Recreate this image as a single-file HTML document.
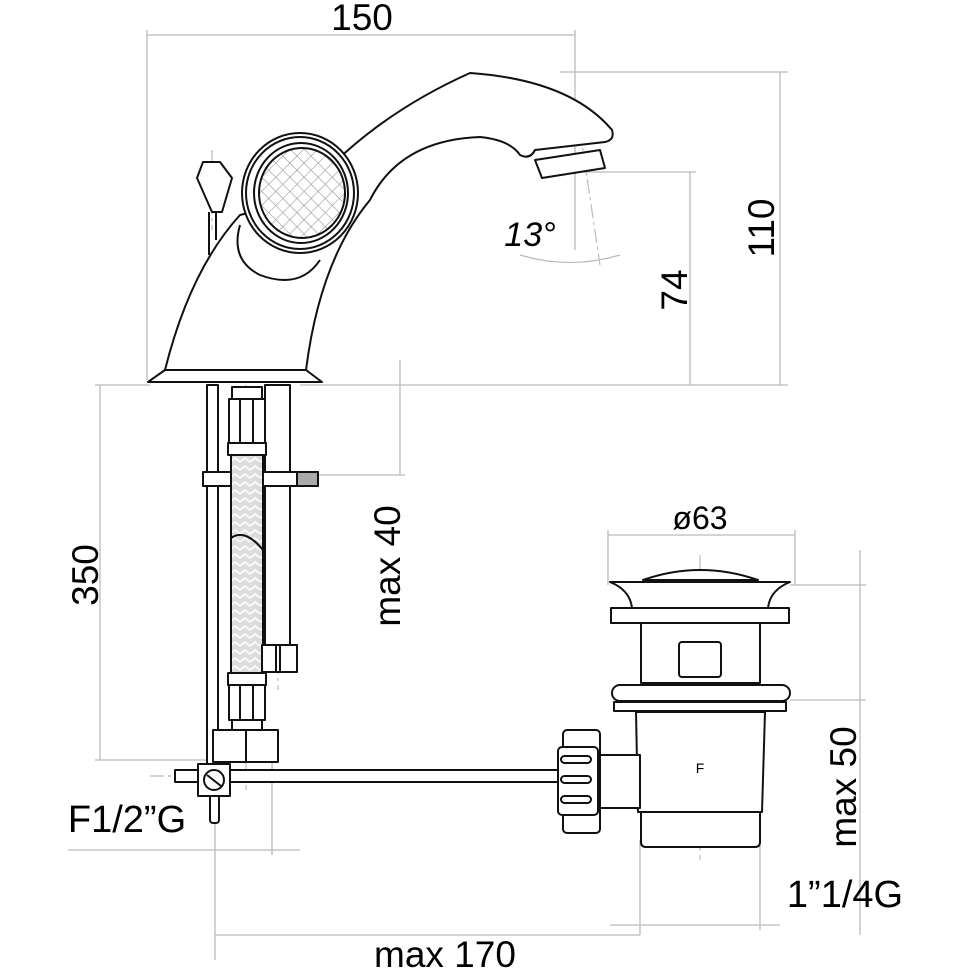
<!DOCTYPE html>
<html><head><style>html,body{margin:0;padding:0;background:#fff}svg{display:block}text{font-family:"Liberation Sans",sans-serif;fill:#000}</style></head>
<body>
<svg width="976" height="976" viewBox="0 0 976 976" xmlns="http://www.w3.org/2000/svg">
<defs>
<pattern id="hatch" width="10" height="10" patternUnits="userSpaceOnUse" patternTransform="rotate(45)">
<path d="M0 0H10M0 0V10" stroke="#999" stroke-width="1.2"/></pattern>
<pattern id="braid" width="10" height="8" patternUnits="userSpaceOnUse">
<rect width="10" height="8" fill="#ddd"/><path d="M0 6L5 2L10 6" stroke="#fff" stroke-width="1.5" fill="none"/></pattern>
</defs>
<g stroke="#bbb" stroke-width="1.3" fill="none">
<path d="M147 35H575M147 30V380M575 30V250"/>
<path d="M780 72V385M560 72H788M300 385H788"/>
<path d="M690 172V385M580 172H696"/>
<path d="M100 385V760M95 385H150M95 760H215"/>
<path d="M400 360V475M305 475H405"/>
<path d="M608 535H795M608 530V585M795 530V585"/>
<path d="M860 550V935M790 585H866M790 700H866"/>
<path d="M68 850H300M215 800V960M272 760V855"/>
<path d="M215 935H640M640 840V935M610 925H780M760 845V930"/>
<path d="M520 255Q570 270 620 255"/>
</g>
<g stroke="#bbb" stroke-width="1.2" stroke-dasharray="14 4 3 4" fill="none">
<path d="M580 130L600 265M212 150V230M233 330V380M700 555V860M150 776H560M246 385V790M278 385V690"/>
</g>
<text x="362" y="30" font-size="37" text-anchor="middle">150</text>
<text transform="translate(774 228) rotate(-90)" font-size="37" text-anchor="middle">110</text>
<text transform="translate(687 290) rotate(-90)" font-size="37" text-anchor="middle">74</text>
<text x="530" y="246" font-size="34" font-style="italic" text-anchor="middle">13°</text>
<text transform="translate(98 575) rotate(-90)" font-size="37" text-anchor="middle">350</text>
<text transform="translate(400 566) rotate(-90)" font-size="37" text-anchor="middle">max 40</text>
<text x="700" y="529" font-size="32" text-anchor="middle">ø63</text>
<text transform="translate(856 787) rotate(-90)" font-size="37" text-anchor="middle">max 50</text>
<text x="127" y="832" font-size="38" text-anchor="middle">F1/2”G</text>
<text x="845" y="907" font-size="38" text-anchor="middle">1”1/4G</text>
<text x="445" y="967" font-size="37" text-anchor="middle">max 170</text>
<g stroke="#111" stroke-width="2" fill="#fff" stroke-linejoin="round">
<path d="M148 382 L165 370 Q190 270 240 215 L300 200 Q365 120 470 73 Q570 80 612 130 Q615 140 605 142 L535 150 Q530 160 520 155 Q510 140 480 137 Q400 140 370 200 Q320 260 306 370 L322 382 Z"/>
<path d="M165 370 H306" fill="none"/>
<path d="M240 225 Q230 260 260 275 Q300 290 320 260" fill="none"/>
<path d="M535 160 L600 150 L605 168 L542 178 Z"/>
<ellipse cx="300" cy="193" rx="58" ry="60"/>
<ellipse cx="300" cy="193" rx="54" ry="56"/>
<ellipse cx="301" cy="193" rx="47" ry="50"/>
<ellipse cx="302" cy="193" rx="43" ry="45" fill="url(#hatch)"/>
<path d="M203 162H220L232 178L222 212H212L197 178Z"/>
<path d="M209 212V255M216 212V240" fill="none"/>
<rect x="207" y="385" width="11" height="392"/>
<rect x="265" y="385" width="25" height="260"/>
<rect x="203" y="472" width="115" height="14"/>
<rect x="297" y="472" width="21" height="14" fill="#aaa"/>
<rect x="231" y="455" width="32" height="222" fill="url(#braid)"/>
<path d="M231 538Q245 528 263 550" fill="none"/>
<rect x="232" y="387" width="30" height="12"/>
<rect x="229" y="399" width="36" height="44"/>
<path d="M240 399V443M253 399V443" fill="none"/>
<rect x="228" y="443" width="38" height="12"/>
<rect x="228" y="673" width="38" height="12"/>
<rect x="229" y="685" width="36" height="35"/>
<path d="M240 685V720M253 685V720" fill="none"/>
<rect x="232" y="720" width="30" height="10"/>
<rect x="262" y="645" width="35" height="27"/>
<path d="M276 645V672M280 645V672" fill="none"/>
<rect x="213" y="730" width="65" height="32"/>
<path d="M246 730V762" fill="none"/>
<rect x="175" y="770" width="385" height="12"/>
<rect x="210" y="775" width="9" height="48" rx="3"/>
<rect x="198" y="764" width="32" height="32"/>
<circle cx="214" cy="780" r="10"/>
<path d="M207 775L221 786" fill="none"/>
<path d="M643 580Q700 560 758 580Z"/>
<path d="M610 582H790Q770 590 768 608H632Q630 590 610 582Z"/>
<rect x="611" y="608" width="178" height="15"/>
<path d="M641 623H760V683H641Z"/>
<rect x="679" y="642" width="42" height="35" rx="3"/>
<rect x="612" y="685" width="178" height="16" rx="8"/>
<rect x="614" y="702" width="172" height="9"/>
<path d="M636 712H765L762 812H638Z"/>
<text x="700" y="773" font-size="14" text-anchor="middle" stroke="none">F</text>
<path d="M641 812H760V842Q760 847 755 847H646Q641 847 641 842Z"/>
<rect x="597" y="755" width="43" height="53"/>
<rect x="563" y="730" width="37" height="103" rx="4"/>
<rect x="558" y="747" width="40" height="68" rx="4"/>
<rect x="561" y="756" width="30" height="7" rx="3.5"/>
<rect x="561" y="776" width="30" height="7" rx="3.5"/>
<rect x="561" y="796" width="30" height="7" rx="3.5"/>
</g>
</svg>
</body></html>
